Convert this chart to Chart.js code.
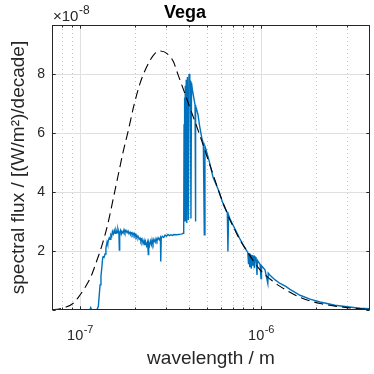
<!DOCTYPE html>
<html>
<head>
<meta charset="utf-8">
<script src="https://cdn.jsdelivr.net/npm/chart.js@4.4.1/dist/chart.umd.min.js"></script>
<style>
  html, body { margin: 0; padding: 0; background: #fff; overflow: hidden; }
  canvas { display: block; }
</style>
</head>
<body>
<canvas id="c" width="374" height="374"></canvas>
<script>
// ---------------- data (flux in units of 1e-8 W/m^2 per decade) ----------------
const bbWavelength = [7.00e-8, 7.75e-8, 8.16e-8, 9.18e-8, 1.000e-7, 1.070e-7, 1.150e-7, 1.226e-7, 1.323e-7, 1.428e-7,
  1.541e-7, 1.622e-7, 1.729e-7, 1.842e-7, 1.988e-7, 2.145e-7, 2.286e-7, 2.436e-7, 2.597e-7, 2.767e-7,
  3.013e-7, 3.278e-7, 3.478e-7, 3.754e-7, 4.105e-7, 4.545e-7, 4.905e-7, 5.293e-7, 5.786e-7, 6.245e-7,
  6.741e-7, 7.185e-7, 7.656e-7, 8.368e-7, 9.032e-7, 9.874e-7, 1.121e-6, 1.274e-6, 1.446e-6, 1.643e-6,
  1.865e-6, 2.118e-6, 2.564e-6, 2.987e-6, 3.524e-6, 4.000e-6];
const bbFlux = [0.00, 0.04, 0.08, 0.23, 0.51, 0.78, 1.14, 1.60, 2.20, 2.95,
  3.90, 4.55, 5.35, 6.05, 6.95, 7.68, 8.12, 8.46, 8.70, 8.78,
  8.70, 8.42, 7.98, 7.42, 6.75, 6.00, 5.40, 4.80, 4.10, 3.55,
  3.05, 2.70, 2.37, 2.00, 1.68, 1.36, 1.05, 0.80, 0.60, 0.43,
  0.31, 0.22, 0.13, 0.08, 0.04, 0.02];

const vegaWavelength = [8.80e-8, 1.100e-7, 1.135e-7, 1.146e-7, 1.158e-7, 1.237e-7, 1.262e-7, 1.290e-7, 1.305e-7, 1.318e-7,
  1.330e-7, 1.340e-7, 1.357e-7, 1.374e-7, 1.390e-7, 1.410e-7, 1.422e-7, 1.433e-7, 1.450e-7, 1.465e-7,
  1.480e-7, 1.496e-7, 1.510e-7, 1.528e-7, 1.545e-7, 1.561e-7, 1.580e-7, 1.601e-7, 1.620e-7, 1.640e-7,
  1.649e-7, 1.656e-7, 1.675e-7, 1.690e-7, 1.706e-7, 1.728e-7, 1.750e-7, 1.770e-7, 1.795e-7, 1.820e-7,
  1.842e-7, 1.865e-7, 1.889e-7, 1.910e-7, 1.938e-7, 1.960e-7, 1.988e-7, 2.010e-7, 2.039e-7, 2.060e-7,
  2.091e-7, 2.120e-7, 2.145e-7, 2.170e-7, 2.200e-7, 2.230e-7, 2.257e-7, 2.280e-7, 2.300e-7, 2.330e-7,
  2.360e-7, 2.384e-7, 2.395e-7, 2.420e-7, 2.450e-7, 2.480e-7, 2.500e-7, 2.530e-7, 2.560e-7, 2.600e-7,
  2.630e-7, 2.660e-7, 2.700e-7, 2.740e-7, 2.780e-7, 2.792e-7, 2.810e-7, 2.850e-7, 2.900e-7, 2.950e-7,
  3.000e-7, 3.060e-7, 3.120e-7, 3.180e-7, 3.250e-7, 3.300e-7, 3.400e-7, 3.500e-7, 3.600e-7, 3.660e-7,
  3.720e-7, 3.740e-7, 3.755e-7, 3.765e-7, 3.785e-7, 3.798e-7, 3.815e-7, 3.835e-7, 3.860e-7, 3.890e-7,
  3.920e-7, 3.970e-7, 4.000e-7, 4.040e-7, 4.070e-7, 4.100e-7, 4.130e-7, 4.180e-7, 4.250e-7, 4.320e-7,
  4.340e-7, 4.360e-7, 4.390e-7, 4.488e-7, 4.570e-7, 4.700e-7, 4.800e-7, 4.860e-7, 4.900e-7, 4.960e-7,
  5.180e-7, 5.430e-7, 5.786e-7, 5.935e-7, 6.245e-7, 6.513e-7, 6.563e-7, 6.620e-7, 6.741e-7, 7.185e-7,
  7.656e-7, 8.055e-7, 8.450e-7, 8.530e-7, 8.590e-7, 8.670e-7, 8.750e-7, 8.840e-7, 8.920e-7, 9.010e-7,
  9.100e-7, 9.180e-7, 9.265e-7, 9.380e-7, 9.500e-7, 9.560e-7, 9.874e-7, 1.000e-6, 1.006e-6, 1.052e-6,
  1.090e-6, 1.096e-6, 1.121e-6, 1.197e-6, 1.274e-6, 1.370e-6, 1.446e-6, 1.643e-6, 1.865e-6, 2.118e-6,
  2.564e-6, 2.987e-6, 3.524e-6, 4.000e-6];
const vegaFlux = [0.00, 0.00, 0.02, 0.08, 0.01, 0.00, 0.12, 0.85, 1.15, 1.40,
  1.70, 1.80, 1.78, 1.90, 2.10, 2.30, 2.22, 2.35, 2.45, 2.40,
  2.55, 2.50, 2.66, 2.58, 2.70, 2.60, 2.72, 2.62, 2.74, 2.60,
  2.03, 2.62, 2.70, 2.58, 2.66, 2.60, 2.72, 2.62, 2.70, 2.62,
  2.68, 2.58, 2.64, 2.56, 2.62, 2.54, 2.60, 2.50, 2.55, 2.46,
  2.50, 2.40, 2.44, 2.32, 2.40, 2.25, 2.36, 2.20, 2.32, 2.18,
  2.30, 1.88, 2.28, 2.18, 2.34, 2.22, 2.38, 2.25, 2.40, 2.30,
  2.42, 2.34, 2.45, 2.38, 2.46, 1.64, 2.44, 2.50, 2.46, 2.54,
  2.50, 2.56, 2.52, 2.55, 2.53, 2.56, 2.55, 2.56, 2.57, 2.58,
  2.60, 2.85, 6.30, 3.00, 7.20, 3.10, 7.60, 3.00, 7.80, 2.95,
  7.90, 3.05, 8.00, 7.80, 7.75, 3.10, 7.70, 7.45, 7.20, 6.95,
  3.00, 6.90, 6.84, 6.61, 6.27, 5.85, 5.65, 2.55, 5.55, 5.45,
  5.03, 4.50, 4.10, 3.90, 3.52, 3.30, 1.98, 3.22, 3.08, 2.74,
  2.40, 2.15, 1.95, 1.55, 1.92, 1.45, 1.90, 1.40, 1.86, 1.50,
  1.84, 1.42, 1.80, 1.76, 1.19, 1.68, 1.55, 1.07, 1.50, 1.36,
  0.90, 1.25, 1.18, 1.02, 0.90, 0.80, 0.70, 0.50, 0.37, 0.27,
  0.16, 0.11, 0.06, 0.04];

// axis ticks / labels
const yTicks = [0, 2, 4, 6, 8];
const yTickLabels = ['', '2', '4', '6', '8'];
const xMajorTicks = [1e-7, 1e-6];
const xTickLabels = ['10^-7', '10^-6'];
const xMinorTicks = [8e-8, 9e-8, 2e-7, 3e-7, 4e-7, 5e-7, 6e-7, 7e-7, 8e-7, 9e-7, 2e-6, 3e-6];
const yExponentLabel = '\u00d710^-8';

const FONT = "'Liberation Sans', Arial, Helvetica, sans-serif";

// draw "base^exp" text with a raised, smaller exponent
function drawPowerText(ctx, text, x, baseY, size, align) {
  const [base, exp] = text.split('^');
  ctx.font = size + 'px ' + FONT;
  const wb = ctx.measureText(base).width;
  const esize = Math.round(size * 0.78);
  ctx.font = esize + 'px ' + FONT;
  const we = exp ? ctx.measureText(exp).width : 0;
  let x0 = align === 'center' ? x - (wb + we) / 2 : x;
  ctx.textAlign = 'left';
  ctx.textBaseline = 'alphabetic';
  ctx.font = size + 'px ' + FONT;
  ctx.fillText(base, x0, baseY);
  if (exp) {
    ctx.font = esize + 'px ' + FONT;
    ctx.fillText(exp, x0 + wb + 0.5, baseY - size * 0.48);
  }
}

const matlabAxes = {
  id: 'matlabAxes',
  beforeDatasetsDraw(chart) {
    const { ctx, chartArea: a, scales: { x, y } } = chart;
    ctx.save();
    ctx.lineWidth = 1;
    // minor x grid (dotted)
    ctx.strokeStyle = '#c4c4c4';
    ctx.setLineDash([1, 3]);
    xMinorTicks.forEach(v => {
      const px = Math.round(x.getPixelForValue(v)) + 0.5;
      ctx.beginPath(); ctx.moveTo(px, a.top); ctx.lineTo(px, a.bottom); ctx.stroke();
    });
    ctx.setLineDash([]);
    // major grid
    ctx.strokeStyle = '#e0e0e0';
    xMajorTicks.forEach(v => {
      const px = Math.round(x.getPixelForValue(v)) + 0.5;
      ctx.beginPath(); ctx.moveTo(px, a.top); ctx.lineTo(px, a.bottom); ctx.stroke();
    });
    yTicks.forEach(v => {
      if (v <= 0) return;
      const py = Math.round(y.getPixelForValue(v)) + 0.5;
      ctx.beginPath(); ctx.moveTo(a.left, py); ctx.lineTo(a.right, py); ctx.stroke();
    });
    ctx.restore();
  },
  afterDatasetsDraw(chart) {
    const { ctx, chartArea: a, scales: { x, y } } = chart;
    ctx.save();
    ctx.strokeStyle = '#262626';
    ctx.lineWidth = 1;
    const L = Math.round(a.left) + 0.5, R = Math.round(a.right) - 0.5;
    const T = Math.round(a.top) + 0.5, B = Math.round(a.bottom) - 0.5;
    ctx.strokeRect(L, T, R - L, B - T);
    ctx.beginPath();
    yTicks.forEach(v => {
      const py = Math.round(y.getPixelForValue(v)) + 0.5;
      ctx.moveTo(L, py); ctx.lineTo(L + 3.2, py);
      ctx.moveTo(R, py); ctx.lineTo(R - 3.2, py);
    });
    xMajorTicks.forEach(v => {
      const px = Math.round(x.getPixelForValue(v)) + 0.5;
      ctx.moveTo(px, B); ctx.lineTo(px, B - 3.2);
      ctx.moveTo(px, T); ctx.lineTo(px, T + 3.2);
    });
    xMinorTicks.forEach(v => {
      const px = Math.round(x.getPixelForValue(v)) + 0.5;
      ctx.moveTo(px, B); ctx.lineTo(px, B - 2);
      ctx.moveTo(px, T); ctx.lineTo(px, T + 2);
    });
    ctx.stroke();
    // x tick labels
    ctx.fillStyle = '#262626';
    xMajorTicks.forEach((v, i) => {
      drawPowerText(ctx, xTickLabels[i], x.getPixelForValue(v), 340, 14.5, 'center');
    });
    // exponent label above y axis
    drawPowerText(ctx, yExponentLabel, a.left + 1, 21, 15, 'left');
    ctx.restore();
  }
};

const bbPoints = bbWavelength.map((w, i) => ({ x: w, y: bbFlux[i] }));
const vegaPoints = vegaWavelength.map((w, i) => ({ x: w, y: vegaFlux[i] }));

new Chart(document.getElementById('c').getContext('2d'), {
  type: 'line',
  data: {
    datasets: [
      { label: 'blackbody', data: bbPoints, borderColor: '#000000', borderWidth: 1.1, borderDash: [9, 5],
        pointRadius: 0, cubicInterpolationMode: 'monotone', fill: false, order: 0 },
      { label: 'Vega', data: vegaPoints, borderColor: '#0072BD', borderWidth: 1.4,
        pointRadius: 0, tension: 0, fill: false, order: 1 }
    ]
  },
  options: {
    responsive: false,
    animation: false,
    devicePixelRatio: 1,
    layout: { padding: { left: 0, right: 4, top: 0, bottom: 0 } },
    plugins: {
      legend: { display: false },
      tooltip: { enabled: false },
      title: { display: true, text: 'Vega', color: '#000',
        font: { family: FONT, size: 18, weight: 'bold', lineHeight: 1.2 },
        padding: { top: 2, bottom: 1.4 } }
    },
    scales: {
      x: {
        type: 'logarithmic', min: 7e-8, max: 4e-6,
        grid: { display: false, drawTicks: false }, border: { display: false },
        ticks: { display: false },
        title: { display: true, text: 'wavelength / m', color: '#262626',
          font: { family: FONT, size: 19, lineHeight: 1.2 }, padding: { top: 0, bottom: 4 } },
        afterFit: s => { s.height = 64; }
      },
      y: {
        type: 'linear', min: 0, max: 9.66,
        grid: { display: false, drawTicks: false }, border: { display: false },
        afterBuildTicks: s => { s.ticks = yTicks.map(v => ({ value: v })); },
        ticks: { padding: 7, color: '#262626', font: { family: FONT, size: 14 },
          callback: (v) => { const i = yTicks.indexOf(v); return i >= 0 ? yTickLabels[i] : ''; } },
        title: { display: true, text: 'spectral flux / [(W/m\u00b2)/decade]', color: '#262626',
          font: { family: FONT, size: 19, lineHeight: 1.2 }, padding: { top: 7, bottom: 0 } },
        afterFit: s => { s.width = 52; }
      }
    }
  },
  plugins: [matlabAxes]
});
</script>
</body>
</html>
